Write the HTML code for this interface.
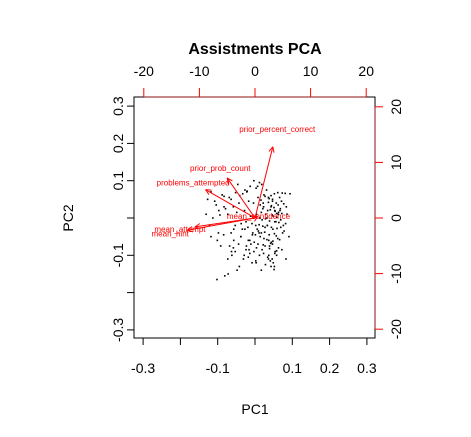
<!DOCTYPE html>
<html><head><meta charset="utf-8">
<style>
html,body{margin:0;padding:0;background:#fff}
svg{display:block;font-family:"Liberation Sans",Arial,sans-serif}
</style></head>
<body>
<svg id="c" width="471" height="437" viewBox="0 0 471 437">
<text x="255" y="54" text-anchor="middle" font-size="16" font-weight="bold">Assistments PCA</text>
<rect x="134" y="97" width="241" height="241" fill="none" stroke="#000" stroke-width="1"/>
<text x="255" y="414" text-anchor="middle" font-size="14">PC1</text>
<text transform="translate(73,218) rotate(-90)" text-anchor="middle" font-size="14">PC2</text>
<g id="axes"></g>
<g id="pts"></g>
<g id="arr"></g>
</svg>
<script>
const ns="http://www.w3.org/2000/svg";
const pc1Ticks=[-0.3,-0.2,-0.1,0,0.1,0.2,0.3];
const pc1Labels=["-0.3","","-0.1","","0.1","0.2","0.3"];
const pc2Ticks=[-0.3,-0.2,-0.1,0,0.1,0.2,0.3];
const pc2Labels=["-0.3","","-0.1","","0.1","0.2","0.3"];
const loadTicks=[-20,-10,0,10,20];
const loadLabels=["-20","-10","0","10","20"];
const varNames=["prior_percent_correct","prior_prob_count","problems_attempted","mean_attempt","mean_hint","mean_confidence"];
const loadX=[3.2,-5.0,-8.9,-10.8,-12.2,0.5];
const loadY=[12.8,7.2,5.1,-1.6,-2.2,0.3];
const pc1=[0.052,0.061,0.073,0.081,0.094,0.043,0.031,0.018,0.012,0.003,-0.013,-0.022,0.047,0.066,0.071,0.038,0.027,0.024,0.057,0.062,
0.077,0.084,0.036,0.044,0.051,0.068,0.016,0.008,0.034,0.041,0.054,0.063,0.072,0.023,0.029,0.046,0.049,0.058,0.014,-0.004,
-0.021,-0.033,-0.041,-0.052,-0.064,-0.069,-0.083,-0.088,-0.104,-0.108,-0.118,-0.127,-0.017,-0.043,-0.058,-0.079,-0.097,-0.028,-0.049,-0.073,
0.004,0.013,0.019,0.028,0.039,0.053,0.064,0.069,0.082,-0.012,0.002,0.011,0.021,0.033,0.044,0.048,0.059,-0.024,-0.008,0.006,
0.009,0.017,0.026,0.038,0.052,0.057,0.074,0.078,0.091,-0.034,-0.019,-0.006,0.001,0.014,0.024,0.032,0.037,0.048,0.061,0.066,
-0.053,-0.037,-0.027,-0.018,-0.011,-0.002,0.008,0.022,0.027,0.042,0.047,0.063,-0.064,-0.038,-0.023,0.004,0.019,0.039,0.054,0.058,
-0.084,-0.057,-0.044,-0.016,-0.003,0.023,0.037,0.046,-0.101,-0.068,-0.053,-0.029,-0.014,0.012,0.034,0.049,-0.092,-0.062,-0.031,0.003,
0.028,0.052,-0.073,-0.042,-0.008,0.017,0.051,-0.081,-0.048,0.002,0.043,-0.063,-0.018,0.036,-0.072,-0.102,0.053,0.022,0.043,0.067,
0.032,0.056,0.017,0.076,0.047,0.027,0.062,0.036,0.053,0.011,-0.007,0.086,-0.014,-0.038,-0.057,0.044,0.039,0.058,0.021,0.069,
-0.113,-0.094,-0.122,-0.131,-0.046,-0.083,-0.003,0.007,-0.027,0.058,0.072,0.083,-0.058,-0.098,-0.024,0.041,0.033,-0.118];
const pc2=[0.065,0.068,0.067,0.066,0.065,0.06,0.075,0.09,0.095,0.08,0.085,0.07,0.05,0.055,0.045,0.052,0.058,0.062,0.04,0.035,
0.038,0.03,0.042,0.033,0.028,0.025,0.048,0.055,0.02,0.022,0.018,0.015,0.012,0.03,0.01,0.008,0.005,0.002,0.035,0.04,
0.072,0.065,0.06,0.068,0.05,0.055,0.058,0.062,0.035,0.045,0.07,0.05,0.045,0.04,0.03,0.025,0.02,0.02,0.015,0.01,
0.01,0.0,-0.005,-0.002,-0.008,-0.01,-0.012,-0.005,-0.015,0.005,-0.02,-0.018,-0.022,-0.02,-0.025,-0.03,-0.028,-0.01,-0.015,-0.03,
-0.035,-0.04,-0.038,-0.045,-0.042,-0.048,-0.04,-0.035,-0.05,-0.03,-0.025,-0.04,-0.045,-0.05,-0.055,-0.058,-0.06,-0.062,-0.055,-0.058,
-0.02,-0.015,-0.03,-0.06,-0.07,-0.065,-0.07,-0.072,-0.075,-0.068,-0.07,-0.08,-0.04,-0.05,-0.075,-0.08,-0.085,-0.082,-0.09,-0.088,
-0.045,-0.06,-0.07,-0.085,-0.09,-0.095,-0.1,-0.11,-0.06,-0.075,-0.09,-0.1,-0.095,-0.1,-0.105,-0.12,-0.075,-0.1,-0.11,-0.12,
-0.125,-0.13,-0.11,-0.13,-0.12,-0.14,-0.138,-0.155,-0.14,-0.115,-0.13,-0.09,-0.105,-0.11,-0.15,-0.165,-0.095,0.04,0.03,0.02,
0.0,-0.01,0.015,-0.02,0.045,-0.025,0.01,0.055,0.02,-0.04,-0.045,0.01,-0.06,-0.05,-0.03,-0.065,-0.075,0.012,0.025,-0.025,
0.0,0.008,-0.02,0.01,0.09,0.03,0.1,0.085,0.075,-0.1,-0.085,-0.11,-0.08,-0.04,-0.085,-0.115,-0.02,-0.05];
const X=v=>255+v*373, Y=v=>218-v*373;
const LX=v=>255+v*5.56, LY=v=>218-v*5.56;
function el(t,a,p){const e=document.createElementNS(ns,t);for(const k in a)e.setAttribute(k,a[k]);document.getElementById(p).appendChild(e);return e;}
pc1Ticks.forEach((t,i)=>{
 const l=el('line',{x1:X(t),x2:X(t),y1:338,y2:345,stroke:'#000'},'axes');
 
 
 if(pc1Labels[i]){const tx=el('text',{x:X(t),y:373,'text-anchor':'middle','font-size':14},'axes');tx.textContent=pc1Labels[i];
 
 }
});
pc2Ticks.forEach((t,i)=>{
 const l=el('line',{x1:127,x2:134,y1:Y(t),y2:Y(t),stroke:'#000'},'axes');
 
 
 if(pc2Labels[i]){const tx=el('text',{transform:`translate(123,${Y(t)}) rotate(-90)`,'text-anchor':'middle','font-size':14},'axes');tx.textContent=pc2Labels[i];
 
 }
});
const ta=el('line',{x1:LX(-20),x2:LX(20),y1:97,y2:97,stroke:'#8a1010'},'axes');


const ra=el('line',{x1:375,x2:375,y1:LY(20),y2:LY(-20),stroke:'#8a1010'},'axes');


loadTicks.forEach((t,i)=>{
 const l=el('line',{x1:LX(t),x2:LX(t),y1:88,y2:97,stroke:'red'},'axes');
 
 
 const tx=el('text',{x:LX(t),y:76,'text-anchor':'middle','font-size':14},'axes');tx.textContent=loadLabels[i];
 
 
 const l2=el('line',{x1:375,x2:383,y1:LY(t),y2:LY(t),stroke:'red'},'axes');
 
 
 const t2=el('text',{transform:`translate(401,${LY(t)}) rotate(-90)`,'text-anchor':'middle','font-size':14},'axes');t2.textContent=loadLabels[i];
 
 
});
pc1.forEach((v,i)=>{
 const r=el('rect',{x:X(v)-0.8,y:Y(pc2[i])-0.8,width:1.6,height:1.6,fill:'#000'},'pts');
 
 
});
const ox=X(0),oy=Y(0);
varNames.forEach((n,i)=>{
 const ex=LX(loadX[i]),ey=LY(loadY[i]);
 const a=el('line',{x1:ox,y1:oy,x2:ex,y2:ey,stroke:'red','stroke-width':1},'arr');
 
 
 const ang=Math.atan2(ey-oy,ex-ox),h=6;
 [0.45,-0.45].forEach(d=>{const hh=el('line',{x1:ex,y1:ey,x2:ex-h*Math.cos(ang+d),y2:ey-h*Math.sin(ang+d),stroke:'red'},'arr');
  
  });
 const lx=LX(loadX[i]*1.25),ly=LY(loadY[i]*1.25)+3;
 const t=el('text',{x:lx,y:ly,'text-anchor':'middle','font-size':8,fill:'red'},'arr');t.textContent=n;
 
 
});
</script>
</body></html>
